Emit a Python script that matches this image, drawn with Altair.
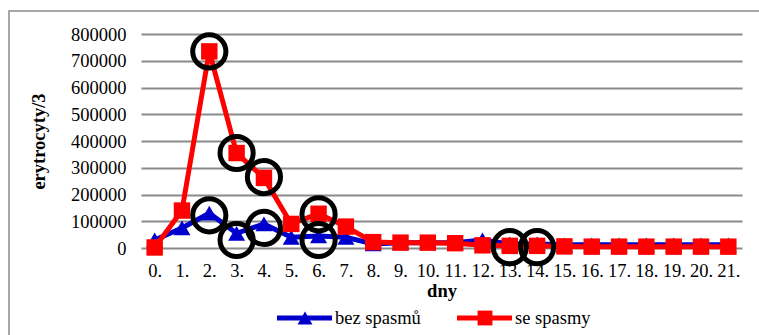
import altair as alt
import pandas as pd

# Days of observation and red blood cell counts for both groups
days = [f"{d}." for d in range(22)]
series = ["bez spasmů", "se spasmy"]
bez_spasmu = [30000, 75000, 130000, 55000, 90000, 40000, 45000, 40000, 15000, 20000, 20000,
              20000, 30000, 15000, 15000, 12000, 12000, 12000, 12000, 12000, 12000, 12000]
se_spasmy = [2000, 140000, 735000, 355000, 262000, 90000, 128000, 80000, 22000, 20000, 20000,
             18000, 10000, 8000, 8000, 6000, 5000, 5000, 5000, 5000, 5000, 5000]

# Highlighted measurements (ringed points)
ring_days = ["2.", "3.", "4.", "2.", "3.", "4.", "6.", "6.", "13.", "14."]
ring_vals = [735000, 355000, 265000, 122000, 30000, 75000, 126000, 30000, 3000, 3000]

BLUE = "#0000CC"
RED = "#FF0000"
FONT = "Liberation Serif"
FS = 18.5

df_bez = pd.DataFrame({"den": days, "hodnota": bez_spasmu})
df_se = pd.DataFrame({"den": days, "hodnota": se_spasmy})
df_ring = pd.DataFrame({"den": ring_days, "hodnota": ring_vals})

x_enc = alt.X(
    "den:O",
    sort=days,
    scale=alt.Scale(type="point", domain=days, padding=0.5),
    axis=alt.Axis(
        title="dny", labelAngle=0, labelFontSize=FS, labelColor="black",
        labelPadding=13, domain=False, ticks=False, grid=False,
        titleFontSize=FS, titleFontWeight="bold", titleColor="black",
        titlePadding=2,
    ),
)
y_enc = alt.Y(
    "hodnota:Q",
    scale=alt.Scale(domain=[0, 800000], nice=False),
    axis=alt.Axis(
        title="erytrocyty/3", values=list(range(0, 800001, 100000)), format="d",
        labelFontSize=FS, labelColor="black", labelPadding=15,
        domain=False, ticks=False, grid=True, gridColor="#8a8a8a", gridWidth=2,
        titleFontSize=FS, titleFontWeight="bold", titleColor="black",
        titlePadding=22,
    ),
)

one = pd.DataFrame({"k": [0]})

# Outer frame around the whole figure
frame = alt.Chart(one).mark_rect(
    fill=None, stroke="#8c8c8c", strokeWidth=1.5, clip=False
).encode(x=alt.value(-132), x2=alt.value(640), y=alt.value(-23), y2=alt.value(320))

line_bez = alt.Chart(df_bez).mark_line(color=BLUE, strokeWidth=5).encode(x=x_enc, y=y_enc)
pts_bez = alt.Chart(df_bez).mark_point(
    shape="triangle-up", filled=True, size=290, color=BLUE, opacity=1
).encode(x=x_enc, y=y_enc)
line_se = alt.Chart(df_se).mark_line(color=RED, strokeWidth=5).encode(x=x_enc, y=y_enc)
pts_se = alt.Chart(df_se).mark_point(
    shape="square", filled=True, size=270, color=RED, opacity=1
).encode(x=x_enc, y=y_enc)
rings = alt.Chart(df_ring).mark_point(
    shape="circle", filled=False, size=1100, color="black", strokeWidth=5, opacity=1
).encode(x=x_enc, y=y_enc)

# Legend drawn below the axis title
leg_y = 318 - 34
legend_layers = []
for name, color, shape, x0 in [(series[0], BLUE, "triangle-up", 277 - 141),
                                (series[1], RED, "square", 457 - 141)]:
    legend_layers.append(
        alt.Chart(one).mark_rule(color=color, strokeWidth=5, clip=False).encode(
            x=alt.value(x0), x2=alt.value(x0 + 55), y=alt.value(leg_y)))
    legend_layers.append(
        alt.Chart(one).mark_point(shape=shape, filled=True, size=220, color=color,
                                  opacity=1, clip=False).encode(
            x=alt.value(x0 + 28), y=alt.value(leg_y)))
    legend_layers.append(
        alt.Chart(one).mark_text(text=name, align="left", baseline="middle",
                                 fontSize=FS, color="black", clip=False).encode(
            x=alt.value(x0 + 58), y=alt.value(leg_y)))

chart = alt.layer(
    line_bez, pts_bez, line_se, pts_se, rings, frame, *legend_layers
).properties(
    width=601, height=214,
    padding={"left": 141, "top": 34, "right": 17, "bottom": 87},
    autosize=alt.AutoSizeParams(type="none"),
    background="white",
).configure(font=FONT).configure_axis(
    labelFont=FONT, titleFont=FONT
).configure_text(font=FONT).configure_view(stroke=None)

chart.save("out.html", embed_options={"renderer": "svg", "actions": False})
